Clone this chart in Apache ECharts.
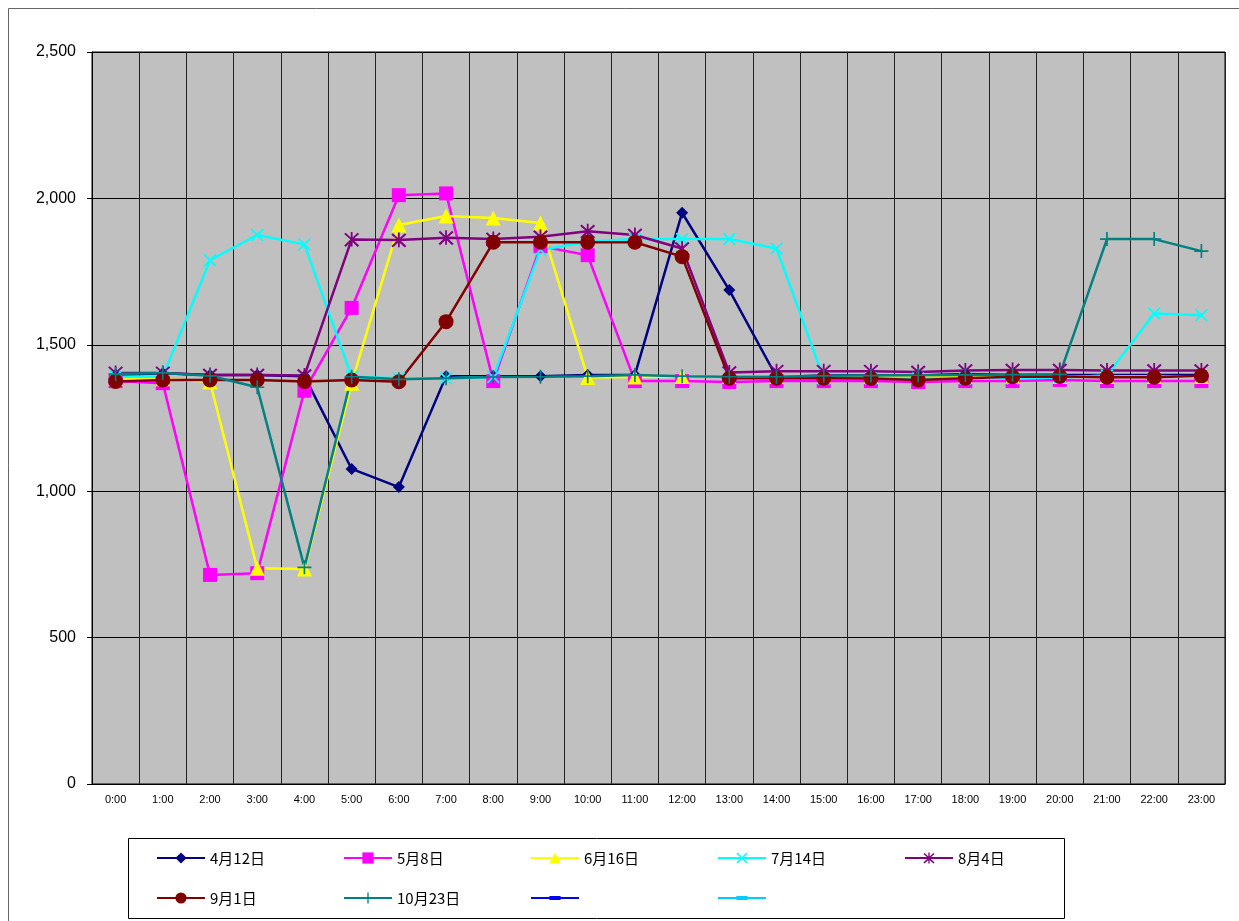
<!DOCTYPE html>
<html>
<head>
<meta charset="utf-8">
<script src="https://cdn.jsdelivr.net/npm/echarts@6/dist/echarts.min.js"></script>
<style>
html,body{margin:0;padding:0;background:#fff;}
#c{width:1239px;height:921px;}
</style>
</head>
<body>
<div id="c"></div>
<script>
var hours = ['0:00','1:00','2:00','3:00','4:00','5:00','6:00','7:00','8:00','9:00','10:00','11:00','12:00','13:00','14:00','15:00','16:00','17:00','18:00','19:00','20:00','21:00','22:00','23:00'];
var seriesNames = ['4月12日','5月8日','6月16日','7月14日','8月4日','9月1日','10月23日',' ','  '];
var apr12 = [1397,1403,1397,1397,1393,1076,1014,1393,1393,1393,1397,1397,1951,1687,1390,1395,1395,1395,1400,1397,1397,1397,1397,1397];
var may8  = [1376,1369,714,720,1343,1626,2011,2017,1376,1837,1806,1376,1376,1373,1376,1376,1376,1373,1376,1376,1380,1376,1376,1376];
var jun16 = [1385,1384,1374,737,734,1369,1909,1940,1933,1916,1388,1390,1392,1392,1392,1392,1392,1392,1392,1392,1392,1392,1392,1392];
var jul14 = [1391,1391,1789,1875,1843,1391,1386,1386,1390,1824,1852,1861,1861,1861,1829,1385,1385,1385,1385,1385,1388,1395,1607,1601];
var aug4  = [1404,1404,1397,1397,1395,1860,1858,1866,1861,1869,1888,1875,1829,1405,1410,1410,1410,1407,1412,1414,1414,1412,1412,1412];
var sep1  = [1375,1380,1380,1380,1375,1380,1374,1579,1850,1850,1850,1850,1801,1386,1386,1386,1385,1380,1386,1391,1392,1389,1389,1394];
var oct23 = [1400,1404,1394,1355,740,1391,1382,1386,1390,1391,1393,1397,1393,1391,1391,1394,1395,1396,1397,1398,1399,1861,1861,1820];
var yTicks = [0,500,1000,1500,2000,2500];

var colors = ['#000080','#FF00FF','#FFFF00','#00FFFF','#800080','#800000','#008080','#0000FF','#00CCFF'];
var symX = 'path://M0,1L1,0L5,4L9,0L10,1L6,5L10,9L9,10L5,6L1,10L0,9L4,5Z';
var symStar = 'path://M0,1.5L1,0.5L5,4.3L9,0.5L10,1.5L5.6,5.4V10H4.4V5.4Z M4.4,0H5.6V10H4.4Z M0,9.2L4.3,5L5.7,5L10,9.2L9,10.2L5,6.4L1,10.2Z';
var symPlus = 'path://M4.4,0H5.6V4.4H10V5.6H5.6V10H4.4V5.6H0V4.4H4.4Z';
var symSmallRect = 'path://M5,0h0.01v0.01h-0.01z M5,9.99h0.01v0.01h-0.01z M3.2,3.2H6.8V6.8H3.2Z';

var datas = [apr12, may8, jun16, jul14, aug4, sep1, oct23, [], []];
var symbols = ['diamond','rect','triangle',symX,symStar,'circle',symPlus,symSmallRect,symSmallRect];
var sizes = [12,14,15,13,15,15,14,12,12];

var series = seriesNames.map(function(n,i){
  return {
    name: n,
    type: 'line',
    data: datas[i],
    symbol: symbols[i],
    symbolSize: sizes[i],
    showAllSymbol: true,
    lineStyle: {color: colors[i], width: 2.5},
    itemStyle: {color: colors[i]},
    emphasis: {disabled: true}
  };
});

var chart = echarts.init(document.getElementById('c'));
chart.setOption({
  animation: false,
  backgroundColor: '#fff',
  color: colors,
  graphic: [
    {type:'rect', shape:{x:8.5,y:8.5,width:1250,height:930}, style:{fill:'none',stroke:'#666',lineWidth:1}, silent:true, z:0},
    {type:'rect', shape:{x:128.5,y:838.5,width:936,height:80}, style:{fill:'#fff',stroke:'#000',lineWidth:1}, silent:true, z:0}
  ],
  grid: {left:92, right:14, top:52, bottom:137, show:true, backgroundColor:'#C0C0C0', borderColor:'#000', borderWidth:1},
  legend: {
    left: 151, top: 843, width: 940,
    itemWidth: 48, itemHeight: 14, itemGap: 20,
    selectedMode: false,
    textStyle: {fontFamily:'"Noto Sans CJK JP", sans-serif', fontSize:15, color:'#000', width:113, lineHeight:20}
  },
  xAxis: {
    type: 'category', data: hours, boundaryGap: true,
    axisLine: {show:true, lineStyle:{color:'#000'}},
    axisTick: {show:false},
    axisLabel: {interval:0, fontSize:11, color:'#000', fontFamily:'"Liberation Sans", Arial, sans-serif', margin:10},
    splitLine: {show:true, interval:0, lineStyle:{color:'#222', width:1}}
  },
  yAxis: {
    type: 'value', min: yTicks[0], max: yTicks[yTicks.length-1], interval: 500,
    axisLine: {show:true, lineStyle:{color:'#000'}},
    axisTick: {show:true, length:5, lineStyle:{color:'#000'}},
    axisLabel: {fontSize:16, color:'#000', fontFamily:'"Liberation Sans", Arial, sans-serif', margin:16,
      formatter: function(v){ return v.toLocaleString('en-US'); }},
    splitLine: {show:true, lineStyle:{color:'#000', width:1}}
  },
  series: series
});
</script>
</body>
</html>
